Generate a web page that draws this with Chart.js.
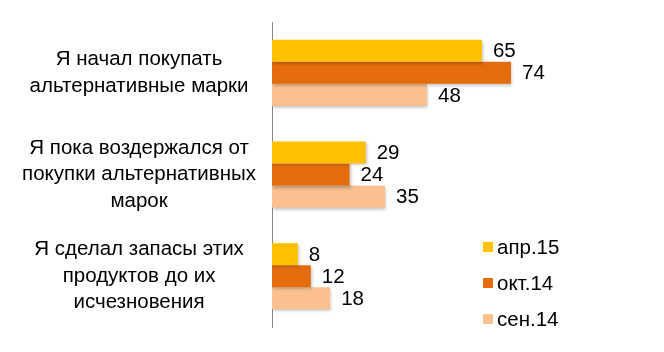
<!DOCTYPE html>
<html>
<head>
<meta charset="utf-8">
<script src="https://cdn.jsdelivr.net/npm/chart.js@4/dist/chart.umd.min.js"></script>
<style>
  html, body { margin: 0; padding: 0; background: #fff; }
  #wrap { width: 664px; height: 352px; }
</style>
</head>
<body>
<div id="wrap"><canvas id="myChart" width="664" height="352"></canvas></div>
<script>
const categories = [
  ["Я начал покупать", "альтернативные марки"],
  ["Я пока воздержался от", "покупки альтернативных", "марок"],
  ["Я сделал запасы этих", "продуктов до их", "исчезновения"]
];
const seriesNames = ["апр.15", "окт.14", "сен.14"];
const apr15 = [65, 29, 8];
const oct14 = [74, 24, 12];
const sep14 = [48, 35, 18];
const colors = ["#FFC000", "#E46C0A", "#FAC090"];

const fontName = "'Liberation Sans', Arial, sans-serif";

// value labels at the end of each bar
const valueLabels = {
  id: "valueLabels",
  afterDatasetsDraw(chart) {
    const ctx = chart.ctx;
    ctx.save();
    ctx.font = "20.5px " + fontName;
    ctx.fillStyle = "#000";
    ctx.textAlign = "left";
    ctx.textBaseline = "middle";
    chart.data.datasets.forEach(function (ds, i) {
      chart.getDatasetMeta(i).data.forEach(function (bar, j) {
        ctx.fillText(ds.data[j], bar.x + 11, bar.y + 1);
      });
    });
    ctx.restore();
  }
};

// soft shadow under bars
const barShadow = {
  id: "barShadow",
  beforeDatasetsDraw(chart) {
    const ctx = chart.ctx;
    ctx.save();
    ctx.shadowColor = "rgba(0,0,0,0.25)";
    ctx.shadowBlur = 3;
    ctx.shadowOffsetX = 1;
    ctx.shadowOffsetY = 2;
  },
  afterDatasetsDraw(chart) {
    chart.ctx.restore();
  }
};

// legend inside the plot, lower right
const sideLegend = {
  id: "sideLegend",
  afterDraw(chart) {
    const ctx = chart.ctx;
    const ys = [247, 283, 319];
    ctx.save();
    ctx.font = "20.5px " + fontName;
    ctx.textBaseline = "middle";
    chart.data.datasets.forEach(function (ds, i) {
      ctx.fillStyle = ds.backgroundColor;
      ctx.fillRect(483, ys[i] - 5, 10, 10);
      ctx.fillStyle = "#000";
      ctx.fillText(ds.label, 497, ys[i] + 1);
    });
    ctx.restore();
  }
};

const ctx = document.getElementById("myChart");
new Chart(ctx, {
  type: "bar",
  data: {
    labels: categories,
    datasets: [
      { label: seriesNames[0], data: apr15, backgroundColor: colors[0] },
      { label: seriesNames[1], data: oct14, backgroundColor: colors[1] },
      { label: seriesNames[2], data: sep14, backgroundColor: colors[2] }
    ]
  },
  options: {
    indexAxis: "y",
    responsive: false,
    animation: false,
    layout: { padding: { left: 3, right: 69, top: 22, bottom: 25 } },
    datasets: { bar: { categoryPercentage: 0.65, barPercentage: 1 } },
    plugins: { legend: { display: false }, tooltip: { enabled: false } },
    scales: {
      x: { display: false, min: 0, max: 100 },
      y: {
        grid: { display: false },
        border: { display: true, color: "#868686", width: 1 },
        ticks: {
          color: "#000",
          crossAlign: "center",
          padding: 8,
          font: { family: fontName, size: 20.5, lineHeight: 1.3 }
        },
        afterFit(scale) {
          scale.width = 269;
          scale.paddingTop = 0;
          scale.paddingBottom = 0;
        }
      }
    }
  },
  plugins: [barShadow, valueLabels, sideLegend]
});
</script>
</body>
</html>
